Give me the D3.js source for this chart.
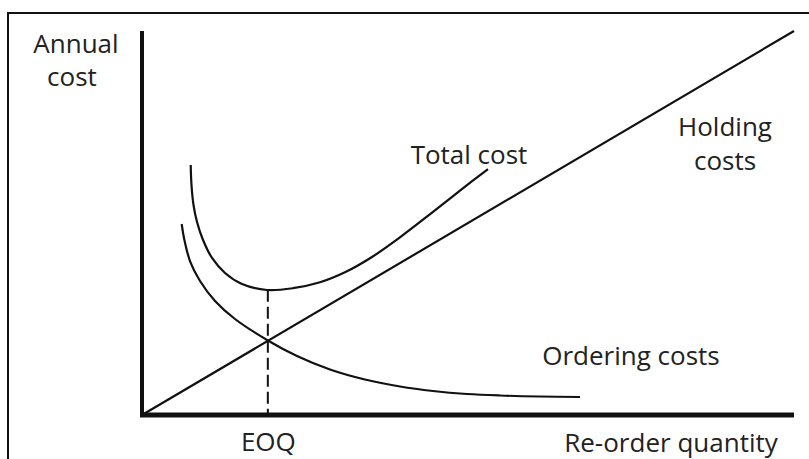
<!DOCTYPE html>
<html>
<head>
<meta charset="utf-8">
<script src="https://cdn.jsdelivr.net/npm/d3@7/dist/d3.min.js"></script>
<style>
  html, body { margin: 0; padding: 0; background: #fff; }
  svg { display: block; }
  text { font-family: "Open Sans", "Noto Sans", sans-serif; fill: #222; }
</style>
</head>
<body>
<svg id="chart" width="809" height="459"></svg>
<script>
// ---- Data (in arbitrary units 0..100) ----
const holdingQty   = [0, 100];
const holdingCost  = [0, 100];

const totalQty     = [7.47, 7.59, 7.90, 8.44, 9.36, 10.74, 12.73, 15.34, 19.17, 23.16, 27.30, 31.13, 34.97, 39.57, 44.63, 48.77, 53.07];
const totalCost    = [65.10, 59.90, 54.69, 50.26, 45.57, 40.89, 36.98, 34.11, 32.55, 33.02, 34.56, 37.16, 40.81, 46.28, 52.89, 58.44, 64.06];

const orderingQty  = [6.09, 6.44, 7.36, 8.90, 11.20, 14.26, 19.37, 23.77, 28.83, 34.20, 39.57, 44.63, 49.85, 54.91, 61.04, 67.18];
const orderingCost = [49.74, 46.09, 40.10, 34.90, 29.69, 25.00, 19.35, 15.36, 11.85, 9.24, 7.42, 6.25, 5.47, 5.08, 4.82, 4.69];

const eoqQty = 19.3;
const eoqMinTotal = 32.6;
const xTickLabels = ["EOQ"];
const xAxisTitle = "Re-order quantity";
const yAxisTitle = ["Annual", "cost"];
const seriesLabels = ["Total cost", "Ordering costs"];
const holdingLabel = ["Holding", "costs"];

// ---- Drawing ----
const svg = d3.select("#chart");
const x = d3.scaleLinear().domain([0, 100]).range([142, 794]);
const y = d3.scaleLinear().domain([0, 100]).range([415, 31]);

// frame
svg.append("rect")
  .attr("x", 8).attr("y", 13)
  .attr("width", 820).attr("height", 470)
  .attr("fill", "none").attr("stroke", "#111").attr("stroke-width", 2);

const line = d3.line()
  .x(d => x(d[0])).y(d => y(d[1]))
  .curve(d3.curveCatmullRom.alpha(0.5));

const zip = (a, b) => a.map((v, i) => [v, b[i]]);

// holding costs line
svg.append("path")
  .datum(zip(holdingQty, holdingCost))
  .attr("d", d3.line().x(d => x(d[0])).y(d => y(d[1])))
  .attr("fill", "none").attr("stroke", "#111").attr("stroke-width", 2.2);

// total cost
svg.append("path")
  .datum(zip(totalQty, totalCost))
  .attr("d", line)
  .attr("fill", "none").attr("stroke", "#111").attr("stroke-width", 2.2);

// ordering costs
svg.append("path")
  .datum(zip(orderingQty, orderingCost))
  .attr("d", line)
  .attr("fill", "none").attr("stroke", "#111").attr("stroke-width", 2.2);

// EOQ dashed line
svg.append("line")
  .attr("x1", x(eoqQty)).attr("x2", x(eoqQty))
  .attr("y1", y(eoqMinTotal)).attr("y2", y(0))
  .attr("stroke", "#111").attr("stroke-width", 2)
  .attr("stroke-dasharray", "12,5");

// axes
const fs = 26;
const xAxis = d3.axisBottom(x)
  .tickValues([eoqQty])
  .tickFormat((d, i) => xTickLabels[i])
  .tickSize(0).tickSizeOuter(0).tickPadding(18);
const gx = svg.append("g").attr("transform", `translate(0,${y(0)})`).call(xAxis);
gx.select(".domain").attr("stroke", "#111").attr("stroke-width", 5)
  .attr("d", `M${x(0) - 2},0H${x(100)}`);
gx.selectAll(".tick text")
  .attr("font-family", "Open Sans").attr("font-size", fs).attr("fill", "#222");

const yAxis = d3.axisLeft(y).tickValues([]).tickSize(0).tickSizeOuter(0);
const gy = svg.append("g").attr("transform", `translate(${x(0)},0)`).call(yAxis);
gy.select(".domain").attr("stroke", "#111").attr("stroke-width", 4)
  .attr("d", `M0,${y(100)}V${y(0) + 2}`);

// texts
svg.append("text").attr("x", 76).attr("y", 53).attr("text-anchor", "middle")
  .attr("font-size", fs).text(yAxisTitle[0]);
svg.append("text").attr("x", 72).attr("y", 86).attr("text-anchor", "middle")
  .attr("font-size", fs).text(yAxisTitle[1]);

svg.append("text").attr("x", 671).attr("y", 452).attr("text-anchor", "middle")
  .attr("font-size", fs).text(xAxisTitle);

svg.append("text").attr("x", 469).attr("y", 164).attr("text-anchor", "middle")
  .attr("font-size", fs).text(seriesLabels[0]);
svg.append("text").attr("x", 631).attr("y", 365).attr("text-anchor", "middle")
  .attr("font-size", fs).text(seriesLabels[1]);

svg.append("text").attr("x", 725).attr("y", 136).attr("text-anchor", "middle")
  .attr("font-size", fs).text(holdingLabel[0]);
svg.append("text").attr("x", 725).attr("y", 170).attr("text-anchor", "middle")
  .attr("font-size", fs).text(holdingLabel[1]);
</script>
</body>
</html>
